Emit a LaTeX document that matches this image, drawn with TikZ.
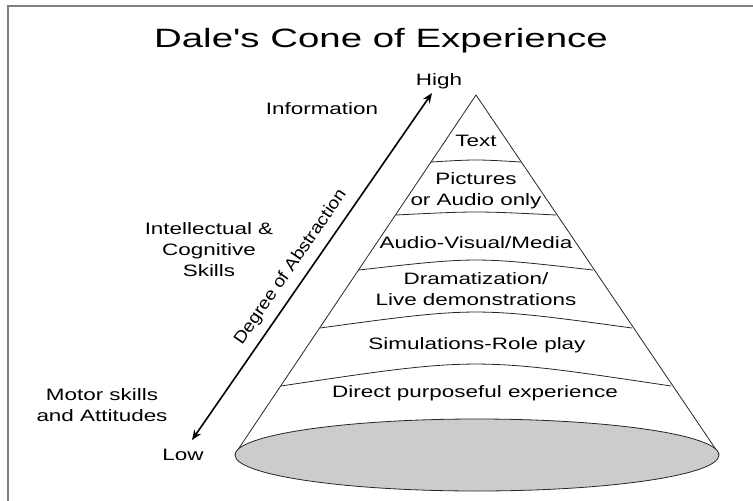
\documentclass[tikz,border=0pt]{standalone}
\usepackage{fontspec}
\setmainfont{Liberation Sans}[FakeStretch=1.36]
\newfontfamily\titlefont{Liberation Sans}[FakeStretch=1.45]
\newfontfamily\slopefont{Liberation Sans}[FakeStretch=1.12]
\usetikzlibrary{arrows.meta, positioning}

\begin{document}
\begin{tikzpicture}[x = 1pt, y = -1pt,
  lbl/.style = {font = \fontsize{16.5}{21}\selectfont, align = center, inner sep = 0pt, anchor = base},
  band/.style = {draw = black!85, line width = 0.8pt},
  axis/.style = {line width = 1.6pt, <->, >={Stealth[length = 10pt, width = 8pt]}}]
\useasboundingbox (0, 0) rectangle (753, 501);
\draw[gray, line width = 1.5pt] (8, 501) -- (8, 6) -- (753, 6);
\node[font = \titlefont\fontsize{26.5}{30}\selectfont, anchor = base, inner sep = 0pt] (title) at (381, 47) {Dale's Cone of Experience};
\coordinate (apex) at (476, 95);
\coordinate (rimL) at (235, 454);
\coordinate (rimR) at (719, 454);
\draw[band] (rimL) -- (apex) -- (rimR);
\draw[band, fill = gray!40] (477, 455) ellipse [x radius = 242, y radius = 36];
\foreach \y/\h/\b in {162/45/2, 215/80/3, 270/117/10, 328/156/16, 386/195/22}
  \draw[band] ({476 - \h}, \y) .. controls (476, {\y - 1.33*\b}) .. ({476 + \h}, \y);
\coordinate (hi) at (432, 93);
\coordinate (lo) at (192, 440);
\draw[axis] (lo) -- node[sloped, above = 5pt, pos = 0.47, font = \slopefont\fontsize{17}{20}\selectfont] (degree) {Degree of Abstraction} (hi);
\node[lbl] (high) at (439, 85) {High};
\node[lbl] (low) at (183, 460) {Low};
\node[lbl] (info) at (322, 114) {Information};
\node[lbl] (intel) at (209, 276) {Intellectual \&\\Cognitive\\Skills};
\node[lbl] (motor) at (102, 421) {Motor skills\\and Attitudes};
\node[lbl] (text) at (476, 146) {Text};
\node[lbl] (pict) at (476, 205) {Pictures\\or Audio only};
\node[lbl] (media) at (476, 248) {Audio-Visual/Media};
\node[lbl] (drama) at (476, 305) {Dramatization/\\Live demonstrations};
\node[lbl] (simul) at (477, 349) {Simulations-Role play};
\node[lbl] (direct) at (475, 397) {Direct purposeful experience};
\end{tikzpicture}
\end{document}
